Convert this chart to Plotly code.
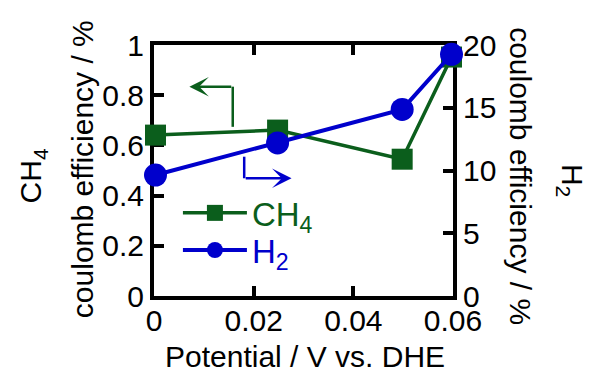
import plotly.graph_objects as go

# ---- data ----
potential = [0.0003, 0.0248, 0.0498, 0.0597]
ch4_eff = [0.641, 0.661, 0.545, 0.952]
h2_eff = [9.64, 12.2, 14.87, 19.26]
x_ticks = [0, 0.02, 0.04, 0.06]
x_ticktext = ["0", "0.02", "0.04", "0.06"]
y1_ticks = [0, 0.2, 0.4, 0.6, 0.8, 1]
y1_ticktext = ["0", "0.2", "0.4", "0.6", "0.8", "1"]
y2_ticks = [0, 5, 10, 15, 20]
y2_ticktext = ["0", "5", "10", "15", "20"]

GREEN = "#0b5e1c"
BLUE = "#0000cc"
FONT = "Liberation Sans, Arial, sans-serif"
FS = 30
LFS = 33

fig = go.Figure()
fig.add_trace(go.Scatter(
    x=potential, y=ch4_eff, mode="lines+markers",
    name='<span style="color:%s">CH<sub>4</sub></span>' % GREEN,
    line=dict(color=GREEN, width=3.5),
    marker=dict(symbol="square", size=21, color=GREEN),
    cliponaxis=False, yaxis="y", legend="legend"))
fig.add_trace(go.Scatter(
    x=potential, y=h2_eff, mode="lines+markers",
    name='<span style="color:%s">H<sub>2</sub></span>' % BLUE,
    line=dict(color=BLUE, width=4),
    marker=dict(symbol="circle", size=23, color=BLUE),
    cliponaxis=False, yaxis="y2", legend="legend2"))

axis_common = dict(
    showgrid=False, zeroline=False, showline=True, linecolor="black",
    linewidth=4, ticks="inside", ticklen=10, tickwidth=4, tickcolor="black",
    tickfont=dict(family=FONT, size=FS, color="black"), layer="below traces")

legend_common = dict(xanchor="left", yanchor="middle", bgcolor="rgba(0,0,0,0)",
                     itemwidth=64, font=dict(family=FONT, size=LFS))

fig.update_layout(
    width=592, height=372,
    margin=dict(l=154, r=139, t=45, b=76),
    paper_bgcolor="white", plot_bgcolor="white",
    font=dict(family=FONT, size=FS, color="black"),
    xaxis=dict(range=[0, 0.06], tickvals=x_ticks, ticktext=x_ticktext,
               mirror="ticks", ticklabelstandoff=-5, **axis_common),
    yaxis=dict(range=[0, 1], tickvals=y1_ticks, ticktext=y1_ticktext,
               **axis_common),
    yaxis2=dict(range=[0, 20], tickvals=y2_ticks, ticktext=y2_ticktext,
                overlaying="y", side="right", **axis_common),
    showlegend=True,
    legend=dict(x=0.080, y=0.331, **legend_common),
    legend2=dict(x=0.080, y=0.183, **legend_common),
)

# axis titles
ann = [
    dict(text="Potential / V vs. DHE", x=0.505, y=-0.243, textangle=0),
    dict(text="coulomb efficiency / %", x=-0.237, y=0.506, textangle=-90),
    dict(text="CH<sub>4</sub>", x=-0.405, y=0.48, textangle=-90),
    dict(text="coulomb efficiency / %", x=1.227, y=0.478, textangle=90),
    dict(text="H<sub>2</sub>", x=1.395, y=0.462, textangle=90),
]
for a in ann:
    fig.add_annotation(xref="paper", yref="paper", showarrow=False,
                       xanchor="center", yanchor="middle",
                       font=dict(family=FONT, size=FS, color="black"), **a)

# direction arrows (decorations)
fig.add_shape(type="line", xref="x", yref="y", x0=0.0158, y0=0.674, x1=0.0158, y1=0.834,
              line=dict(color=GREEN, width=2.5))
fig.add_annotation(xref="x", yref="y", axref="x", ayref="y",
                   x=0.0071, y=0.834, ax=0.0158, ay=0.834, text="",
                   showarrow=True, arrowhead=3, arrowsize=1.3, arrowwidth=2.5,
                   arrowcolor=GREEN, standoff=0, startstandoff=0)
fig.add_shape(type="line", xref="x", yref="y", x0=0.0181, y0=0.555, x1=0.0181, y1=0.469,
              line=dict(color=BLUE, width=2.5))
fig.add_annotation(xref="x", yref="y", axref="x", ayref="y",
                   x=0.0276, y=0.469, ax=0.0181, ay=0.469, text="",
                   showarrow=True, arrowhead=3, arrowsize=1.3, arrowwidth=2.5,
                   arrowcolor=BLUE, standoff=0, startstandoff=0)

fig.write_html("out.html", config={"displayModeBar": False},
               post_script="document.body.style.margin='0';")
